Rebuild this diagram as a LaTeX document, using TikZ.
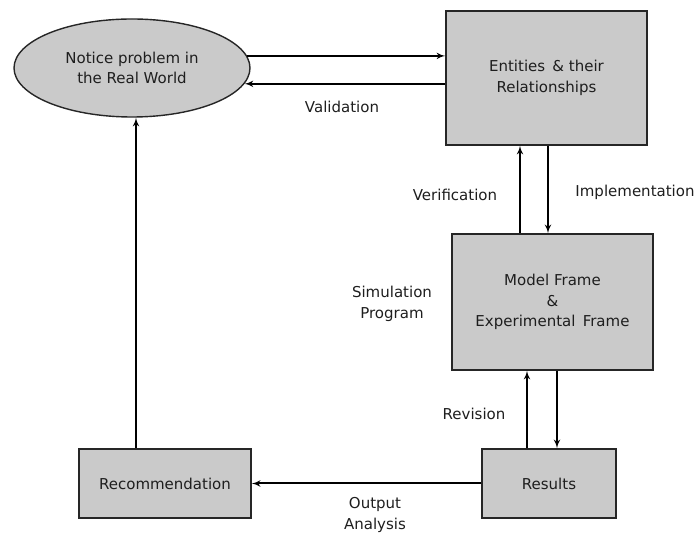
\documentclass[tikz,border=0pt]{standalone}
\usepackage{fontspec}
\setmainfont{DejaVu Sans}
\usepackage{xcolor}
\usepackage{tikz}
\usetikzlibrary{arrows}
\usetikzlibrary{shapes.geometric}
\tikzset{>=latex'}
\definecolor{boxgray}{RGB}{202,202,202}
\definecolor{textgray}{RGB}{30,30,30}

\begin{document}
\begin{tikzpicture}[x=1pt,y=-1pt,font=\fontsize{15}{20.5}\selectfont,line width=2pt,
	box/.style={draw=black!85,line width=1.4pt,fill=boxgray,text=textgray,align=center,inner sep=0pt},
	lbl/.style={text=textgray,align=center}]
	\useasboundingbox (0,0) rectangle (697,534);
	\node[box,ellipse,minimum width=236pt,minimum height=98pt] (notice) at (132,68) {Notice problem in\\the Real World};
	\node[box,minimum width=201pt,minimum height=134pt] (entities) at (546.5,78) {Entities \,\& their\\Relationships};
	\node[box,minimum width=201pt,minimum height=136pt] (model) at (552.5,302) {Model Frame\\\&\\Experimental \,Frame};
	\node[box,minimum width=134pt,minimum height=69pt] (results) at (549,483.5) {Results};
	\node[box,minimum width=172pt,minimum height=69pt] (recomm) at (165,483.5) {Recommendation};
	\node[lbl] (validation) at (342,107) {Validation};
	\node[lbl] (verification) at (455,195) {Verification};
	\node[lbl] (implementation) at (635,192) {Implementation};
	\node[lbl] (simprog) at (392,304) {Simulation\\Program};
	\node[lbl] (revision) at (474,414) {Revision};
	\node[lbl] (output) at (375,515) {Output\\Analysis};
	\draw[->] (notice.6.5) -- (notice.6.5 -| entities.west);
	\draw[->] (entities.west |- notice.-8.7) -- (notice.-8.7);
	\draw[->] ([xshift=-32.5pt]model.north) -- ([xshift=-32.5pt]model.north |- entities.south);
	\draw[->] ([xshift=1.5pt]entities.south) -- ([xshift=1.5pt]entities.south |- model.north);
	\draw[->] ([xshift=-22pt]results.north) -- ([xshift=-22pt]results.north |- model.south);
	\draw[->] ([xshift=4.5pt]model.south) -- ([xshift=4.5pt]model.south |- results.north);
	\draw[->] (results.west) -- (recomm.east);
	\draw[->] ([xshift=-29pt]recomm.north) -- ([xshift=-29pt]recomm.north |- notice.south);
\end{tikzpicture}
\end{document}
